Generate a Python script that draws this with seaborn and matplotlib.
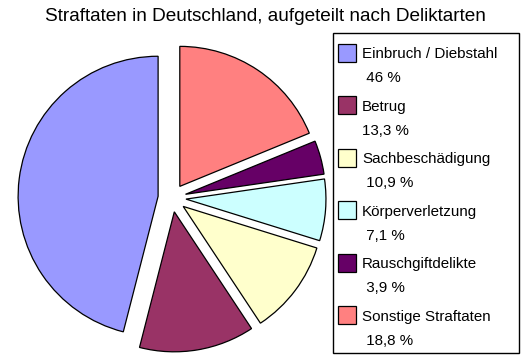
import matplotlib
matplotlib.use("Agg")
import matplotlib.pyplot as plt
import seaborn as sns
from matplotlib.patches import Rectangle

categories = ["Einbruch / Diebstahl", "Betrug", "Sachbeschädigung",
              "Körperverletzung", "Rauschgiftdelikte", "Sonstige Straftaten"]
shares = [46, 13.3, 10.9, 7.1, 3.9, 18.8]
share_labels = [" 46 %", "13,3 %", " 10,9 %", " 7,1 %", " 3,9 %", " 18,8 %"]
colors = ["#9999FF", "#993366", "#FFFFCC", "#CCFFFF", "#660066", "#FF8080"]
title = "Straftaten in Deutschland, aufgeteilt nach Deliktarten"

sns.set_theme(style="white")
plt.rcParams["font.family"] = ["Liberation Sans", "DejaVu Sans"]
plt.rcParams["text.color"] = "black"

W, H = 529, 359
fig = plt.figure(figsize=(W / 100, H / 100), dpi=100)
fig.patch.set_facecolor("white")
ax = fig.add_axes([0, 0, 1, 1])

ax.pie(shares, colors=colors, startangle=90, counterclock=True,
       center=(172, H - 198), radius=140, explode=[14] * len(shares),
       wedgeprops=dict(edgecolor="black", linewidth=0.9))
ax.set_xlim(0, W)
ax.set_ylim(0, H)
ax.set_aspect("equal")
ax.axis("off")

# title
ax.text(265, H - 21, title, ha="center", va="baseline", fontsize=13.7,
        color="black")

# legend box
ax.add_patch(Rectangle((333, H - 353), 519 - 333, 353 - 33, fill=False,
                       edgecolor="black", linewidth=1))
for i, (cat, lab, col) in enumerate(zip(categories, share_labels, colors)):
    cy = 52.7 + i * 52.5
    ax.add_patch(Rectangle((338, H - (cy + 9)), 18, 18, facecolor=col,
                           edgecolor="black", linewidth=0.9))
    ax.text(362, H - (cy + 5.5), cat, ha="left", va="baseline", fontsize=10.9,
            color="black")
    ax.text(362, H - (cy + 24 + 5.5), lab, ha="left", va="baseline",
            fontsize=10.9, color="black")

fig.savefig("out.png", dpi=100)
